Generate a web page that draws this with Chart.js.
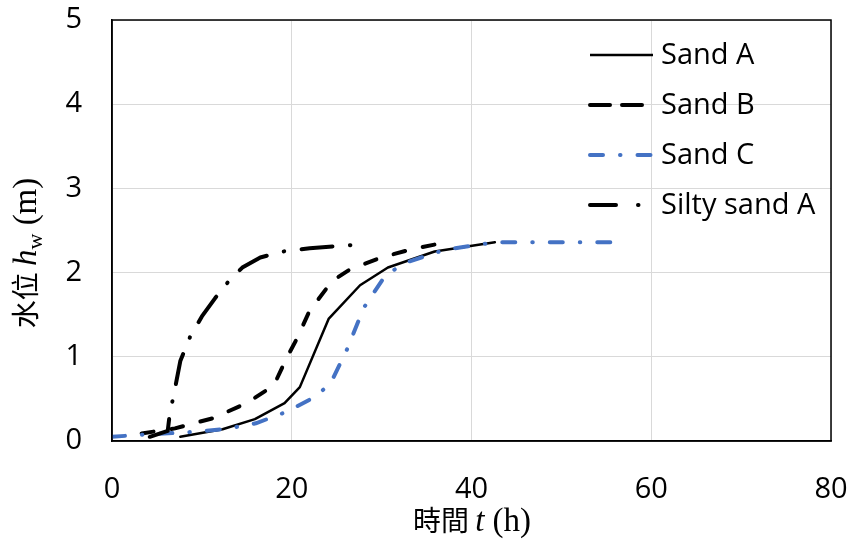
<!DOCTYPE html>
<html>
<head>
<meta charset="utf-8">
<script src="https://cdn.jsdelivr.net/npm/chart.js@4.4.1/dist/chart.umd.min.js"></script>
<style>
    body { margin: 0; background: #fff; }
    #wrap { width: 851px; height: 542px; position: relative; }
</style>
</head>
<body>
<div id="wrap"><canvas id="waterChart"></canvas></div>
<script>
// --- data ---
const seriesNames = ['Sand A', 'Sand B', 'Sand C', 'Silty sand A'];

const sandA_t = [7.6, 12.3, 15.9, 19.2, 20.9, 24.1, 27.6, 30.7, 35.9, 42.6];
const sandA_h = [0.05, 0.14, 0.26, 0.45, 0.64, 1.45, 1.85, 2.06, 2.25, 2.36];

const sandB_t = [3.3, 7.0, 11.2, 15.0, 18.0, 19.5, 20.5, 22.0, 24.5, 26.5, 30.0, 33.4, 36.7];
const sandB_h = [0.09, 0.15, 0.27, 0.45, 0.66, 1.0, 1.2, 1.55, 1.9, 2.04, 2.18, 2.28, 2.35];

const sandC_t = [0, 4, 8, 12.5, 16, 19.5, 22.5, 24.3, 26.2, 28, 30.5, 33, 37, 42.6, 57.2];
const sandC_h = [0.05, 0.08, 0.1, 0.14, 0.21, 0.35, 0.52, 0.68, 1.1, 1.58, 1.98, 2.13, 2.27, 2.36, 2.36];

const silty_t = [4.2, 6.2, 6.4, 7.0, 7.6, 8.7, 10.0, 11.5, 13.0, 14.5, 16.5, 19.0, 22.0, 27.0];
const silty_h = [0.05, 0.12, 0.3, 0.62, 0.95, 1.24, 1.48, 1.7, 1.9, 2.06, 2.18, 2.25, 2.29, 2.33];

const xTicks = [0, 20, 40, 60, 80];
const yTicks = [0, 1, 2, 3, 4, 5];

const tickFont = { family: '"Open Sans", sans-serif', size: 29 };
const cjkFont = '"Noto Sans CJK TC", "Noto Sans CJK JP", sans-serif';
const serifFont = '"Liberation Serif", "DejaVu Serif", serif';

function toPoints(ts, hs) {
    return ts.map((t, i) => ({ x: t, y: hs[i] }));
}

// line look for each series (plot + legend sample)
const lineStyles = [
    { color: '#000000', width: 2.5, dash: [], legendDash: [] },
    { color: '#000000', width: 4, dash: [12, 18], legendDash: [20, 12] },
    { color: '#4472C4', width: 4, dash: [13, 17, 0.5, 17], legendDash: [13, 17, 0.5, 17] },
    { color: '#000000', width: 4, dash: [31, 17.5, 0.5, 17.5], legendDash: [26, 22, 0.5, 22] }
];

const seriesData = [
    toPoints(sandA_t, sandA_h),
    toPoints(sandB_t, sandB_h),
    toPoints(sandC_t, sandC_h),
    toPoints(silty_t, silty_h)
];

const datasets = seriesData.map((pts, i) => ({
    label: seriesNames[i],
    data: pts,
    showLine: true,
    borderColor: lineStyles[i].color,
    borderWidth: lineStyles[i].width,
    borderDash: lineStyles[i].dash,
    borderCapStyle: 'round',
    borderJoinStyle: 'round',
    pointRadius: 0,
    tension: 0,
    order: 3 - i
}));

/* draw several text runs on one line, centred on (cx, cy) */
function drawRuns(ctx, runs, cx, baseY, angle) {
    ctx.save();
    ctx.translate(cx, baseY);
    ctx.rotate(angle);
    let total = 0;
    runs.forEach(r => { ctx.font = r.font; total += ctx.measureText(r.text).width; });
    let x = -total / 2;
    ctx.fillStyle = '#000';
    ctx.textBaseline = 'alphabetic';
    ctx.textAlign = 'left';
    runs.forEach(r => {
        ctx.font = r.font;
        ctx.fillText(r.text, x, r.dy || 0);
        x += ctx.measureText(r.text).width;
    });
    ctx.restore();
}

const framePlugin = {
    id: 'frameAndTitles',
    afterDraw(chart) {
        const ctx = chart.ctx;
        const a = chart.chartArea;

        // box round plot area
        ctx.save();
        ctx.strokeStyle = '#000';
        ctx.lineWidth = 1.5;
        ctx.strokeRect(a.left, a.top, a.right - a.left, a.bottom - a.top);
        ctx.restore();

        // legend inside the plot
        const rowY = [55, 105, 155, 205];
        chart.data.datasets.forEach((ds, i) => {
            const st = lineStyles[i];
            ctx.save();
            ctx.strokeStyle = st.color;
            ctx.lineWidth = st.width;
            ctx.lineCap = i === 0 ? 'butt' : 'round';
            ctx.setLineDash(st.legendDash);
            ctx.beginPath();
            ctx.moveTo(590, rowY[i]);
            ctx.lineTo(653, rowY[i]);
            ctx.stroke();
            ctx.restore();

            ctx.save();
            ctx.fillStyle = '#000';
            ctx.font = tickFont.size + 'px ' + tickFont.family;
            ctx.textBaseline = 'middle';
            ctx.fillText(ds.label, 661, rowY[i] + 1);
            ctx.restore();
        });

        // axis titles (mixed scripts, italic symbols, subscript)
        drawRuns(ctx, [
            { text: '時間 ', font: '28px ' + cjkFont },
            { text: 't', font: 'italic 33px ' + serifFont },
            { text: ' (h)', font: '33px ' + serifFont }
        ], 472, 531, 0);

        drawRuns(ctx, [
            { text: '水位 ', font: '28px ' + cjkFont },
            { text: 'h', font: 'italic 33px ' + serifFont },
            { text: 'w', font: '22px ' + serifFont, dy: 6 },
            { text: ' (m)', font: '33px ' + serifFont }
        ], 36, 253, -Math.PI / 2);
    }
};

new Chart(document.getElementById('waterChart'), {
    type: 'scatter',
    data: { datasets: datasets },
    options: {
        responsive: true,
        maintainAspectRatio: false,
        animation: false,
        layout: { padding: { top: 20, right: 20, left: 0, bottom: 0 } },
        plugins: {
            legend: { display: false },
            tooltip: { enabled: false }
        },
        scales: {
            x: {
                type: 'linear',
                min: xTicks[0],
                max: xTicks[xTicks.length - 1],
                afterBuildTicks: s => { s.ticks = xTicks.map(v => ({ value: v })); },
                ticks: { font: tickFont, color: '#000', padding: 31, maxRotation: 0 },
                grid: { color: '#d9d9d9', lineWidth: 1, drawTicks: false },
                border: { color: '#000', width: 1.5 },
                afterFit: s => {
                    s.height = 101;
                    s.paddingLeft = 0;
                    s.paddingRight = 0;
                }
            },
            y: {
                type: 'linear',
                min: yTicks[0],
                max: yTicks[yTicks.length - 1],
                afterBuildTicks: s => { s.ticks = yTicks.map(v => ({ value: v })); },
                ticks: { font: tickFont, color: '#000', padding: 30 },
                grid: { color: '#d9d9d9', lineWidth: 1, drawTicks: false },
                border: { color: '#000', width: 1.5 },
                afterFit: s => {
                    s.width = 112;
                    s.paddingTop = 0;
                    s.paddingBottom = 0;
                }
            }
        }
    },
    plugins: [framePlugin]
});
</script>
</body>
</html>
